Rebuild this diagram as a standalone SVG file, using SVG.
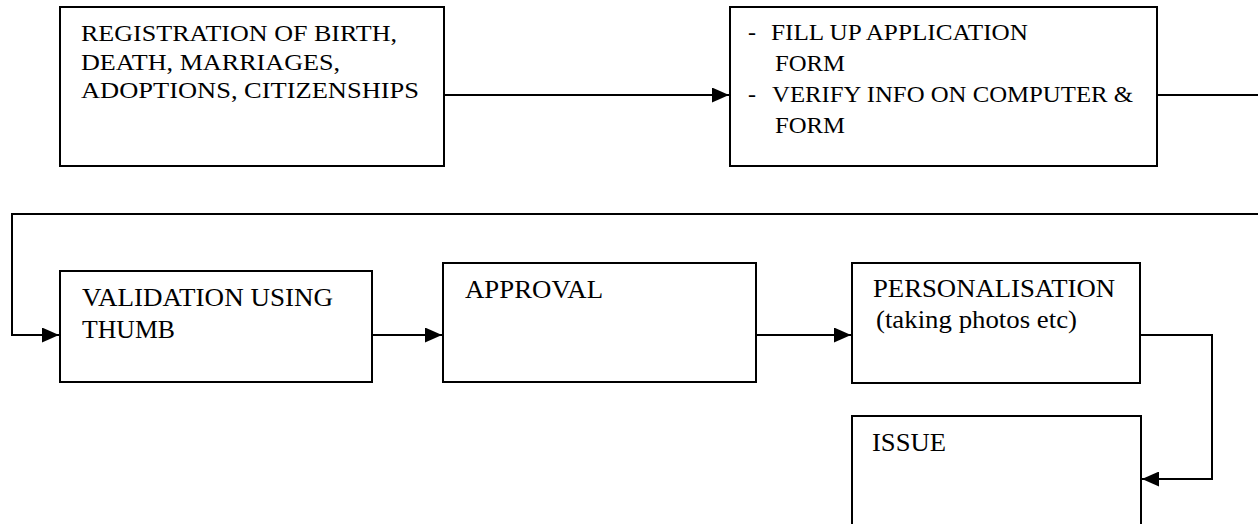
<svg xmlns="http://www.w3.org/2000/svg" width="1258" height="524" viewBox="0 0 1258 524">
<style>
.box{fill:#fff;stroke:#000;stroke-width:2}
.t{font-family:"Liberation Serif","Times New Roman",serif;font-size:24px;fill:#000}
.r{font-size:25.5px}
.c{fill:none;stroke:#000;stroke-width:2}
</style>
<defs>
<marker id="ah" markerUnits="userSpaceOnUse" markerWidth="17" markerHeight="15" refX="17" refY="7.5" orient="auto">
<path d="M0,0 L17,7.5 L0,15 Z" fill="#000"/>
</marker>
</defs>
<rect width="1258" height="524" fill="#fff"/>
<g id="connectors">
<path class="c" d="M444,95 H729" marker-end="url(#ah)"/>
<path class="c" d="M1157,95 H1266 V214 H12 V335 H59" marker-end="url(#ah)"/>
<path class="c" d="M372,335 H442" marker-end="url(#ah)"/>
<path class="c" d="M756,335 H851" marker-end="url(#ah)"/>
<path class="c" d="M1140,335 H1212 V479 H1142" marker-end="url(#ah)"/>
</g>
<g id="registration">
<rect class="box" x="60" y="7" width="384" height="159"/>
<text class="t" x="81" y="41" textLength="316" lengthAdjust="spacingAndGlyphs">REGISTRATION OF BIRTH,</text>
<text class="t" x="81" y="69.5" textLength="259" lengthAdjust="spacingAndGlyphs">DEATH, MARRIAGES,</text>
<text class="t" x="81" y="98" textLength="338" lengthAdjust="spacingAndGlyphs">ADOPTIONS, CITIZENSHIPS</text>
</g>
<g id="application">
<rect class="box" x="730" y="7" width="427" height="159"/>
<text class="t" x="748" y="39.5">-</text>
<text class="t" x="771" y="39.5" textLength="257" lengthAdjust="spacingAndGlyphs">FILL UP APPLICATION</text>
<text class="t" x="775" y="71" textLength="70" lengthAdjust="spacingAndGlyphs">FORM</text>
<text class="t" x="748" y="102">-</text>
<text class="t" x="772" y="102" textLength="361" lengthAdjust="spacingAndGlyphs">VERIFY INFO ON COMPUTER &amp;</text>
<text class="t" x="775" y="133" textLength="70" lengthAdjust="spacingAndGlyphs">FORM</text>
</g>
<g id="validation">
<rect class="box" x="60" y="271" width="312" height="111"/>
<text class="t r" x="82" y="306" textLength="251" lengthAdjust="spacingAndGlyphs">VALIDATION USING</text>
<text class="t r" x="82" y="338" textLength="93" lengthAdjust="spacingAndGlyphs">THUMB</text>
</g>
<g id="approval">
<rect class="box" x="443" y="263" width="313" height="119"/>
<text class="t r" x="465" y="298" textLength="138" lengthAdjust="spacingAndGlyphs">APPROVAL</text>
</g>
<g id="personalisation">
<rect class="box" x="852" y="263" width="288" height="120"/>
<text class="t r" x="873" y="297" textLength="242" lengthAdjust="spacingAndGlyphs">PERSONALISATION</text>
<text class="t r" x="876" y="328" textLength="201" lengthAdjust="spacingAndGlyphs">(taking photos etc)</text>
</g>
<g id="issue">
<rect class="box" x="852" y="416" width="289" height="120"/>
<text class="t r" x="872" y="451" textLength="74" lengthAdjust="spacingAndGlyphs">ISSUE</text>
</g>
</svg>
